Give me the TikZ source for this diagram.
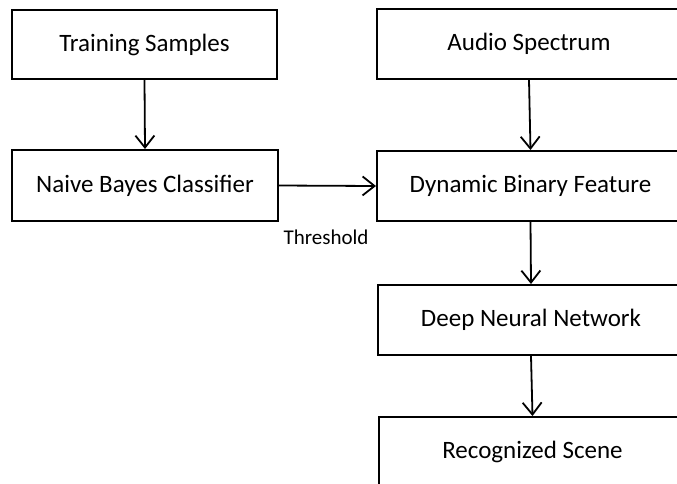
\documentclass[tikz,border=0pt]{standalone}
\usepackage{fontspec}
\setmainfont{Carlito}
\usetikzlibrary{arrows.meta}
\begin{document}
\begin{tikzpicture}[x=1pt,y=1pt,
  box/.style={draw=black,line width=2pt,minimum height=70pt,inner sep=0pt,
    font=\fontsize{25}{30}\selectfont},
  conn/.style={line width=1.8pt,-{Straight Barb[length=12pt,width=19pt,line width=1.8pt]}}]
\useasboundingbox (0,0) rectangle (677,-483);
\clip (0,0) rectangle (677,-483);
\fill[white] (0,0) rectangle (677,-483);
\node[box,minimum width=265pt,minimum height=69pt] (ts) at (144.5,-44.5) {Training Samples};
\node[box,minimum width=266pt,minimum height=71pt] (nb) at (145,-185.5) {Naive Bayes Classifier};
\node[box,minimum width=304pt] (as) at (529,-44) {Audio Spectrum};
\node[box,minimum width=307pt] (dbf) at (530.5,-186) {Dynamic Binary Feature};
\node[box,minimum width=306pt] (dnn) at (531,-320) {Deep Neural Network};
\node[box,minimum width=307pt] (rs) at (532.5,-452) {Recognized Scene};
\node[font=\fontsize{21}{25}\selectfont,inner sep=0pt] (thr) at (326,-237) {Threshold};
\draw[conn] (ts.south) -- (nb.north);
\draw[conn] (as.south) -- (dbf.north);
\draw[conn] (nb.east) -- (dbf.west);
\draw[conn] (dbf.south) -- (dnn.north);
\draw[conn] (dnn.south) -- (rs.north);
\end{tikzpicture}
\end{document}
